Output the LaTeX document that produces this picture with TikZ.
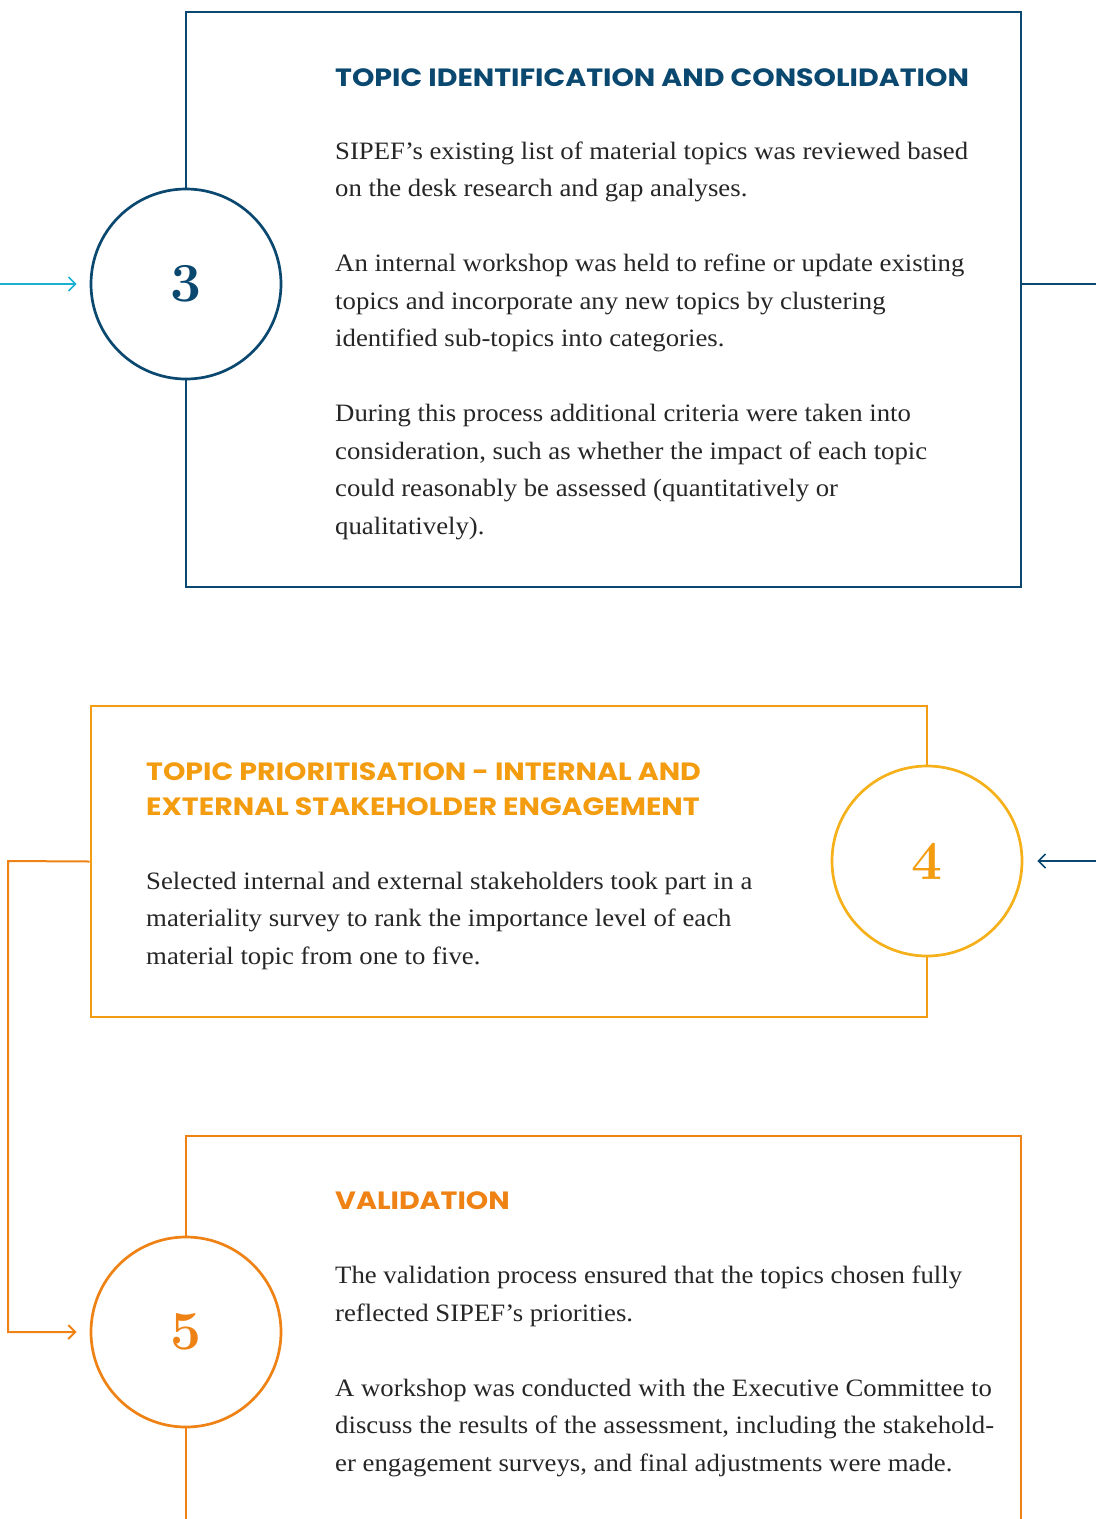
\documentclass[tikz,border=0pt]{standalone}
\usepackage{fontspec}
\setmainfont{Liberation Serif}[FakeStretch=1.07]
\newfontfamily\headfont{Poppins}[FakeStretch=1.14]
\newfontfamily\numfont{Latin Modern Roman}
\usetikzlibrary{arrows.meta}
\definecolor{navy}{HTML}{0B4870}
\definecolor{skyline}{HTML}{1BAFD1}
\definecolor{amber}{HTML}{F39C0F}
\definecolor{gold}{HTML}{F5B01A}
\definecolor{tangerine}{HTML}{EE8214}
\definecolor{ink}{HTML}{262626}
\tikzset{
  stagebox/.style={draw, line width=2.8pt, inner sep=0pt},
  stagering/.style={circle, draw, fill=white, line width=2.7pt, minimum size=190pt, inner sep=0pt,
    font=\numfont\bfseries\fontsize{55}{55}\selectfont},
  % multi-line nodes: base = baseline of the last line
  headtext/.style={anchor=base west, inner sep=0pt, align=left, font=\headfont\bfseries\fontsize{25}{35}\selectfont},
  bodytext/.style={anchor=base west, inner sep=0pt, align=left, text=ink, font=\fontsize{25}{37.5}\selectfont},
  flow/.style={line width=1.6pt, -{Straight Barb[length=7pt,width=14pt]}}
}
\begin{document}
\begin{tikzpicture}[x=1pt, y=-1pt]
  \clip (0,0) rectangle (1096,1519);

  % stage 3
  \node[stagebox, draw=navy, minimum width=835pt, minimum height=575pt] (box3) at (603.5,299.5) {};
  \node[stagering, draw=navy, text=navy] (c3) at (186,284) {3};
  \node[headtext, text=navy] (head3) at (335,86) {TOPIC IDENTIFICATION AND CONSOLIDATION};
  \node[bodytext] (body3) at (335,534) {SIPEF’s existing list of material topics was reviewed based\\
    on the desk research and gap analyses.\\[37.5pt]
    An internal workshop was held to refine or update existing\\
    topics and incorporate any new topics by clustering\\
    identified sub-topics into categories.\\[37.5pt]
    During this process additional criteria were taken into\\
    consideration, such as whether the impact of each topic\\
    could reasonably be assessed (quantitatively or\\
    qualitatively).};

  % stage 4
  \node[stagebox, draw=amber, minimum width=836pt, minimum height=311pt] (box4) at (509,861.5) {};
  \node[stagering, draw=gold, text=amber] (c4) at (927,861) {4};
  \node[headtext, text=amber] (head4) at (146,815) {TOPIC PRIORITISATION - INTERNAL AND\\
    EXTERNAL STAKEHOLDER ENGAGEMENT};
  \node[bodytext] (body4) at (146,964) {Selected internal and external stakeholders took part in a\\
    materiality survey to rank the importance level of each\\
    material topic from one to five.};

  % stage 5
  \node[stagebox, draw=tangerine, minimum width=835pt, minimum height=564pt] (box5) at (603.5,1418) {};
  \node[stagering, draw=tangerine, text=tangerine] (c5) at (186,1332) {5};
  \node[headtext, text=tangerine] (head5) at (335,1209) {VALIDATION};
  \node[bodytext] (body5) at (335,1471) {The validation process ensured that the topics chosen fully\\
    reflected SIPEF’s priorities.\\[37.5pt]
    A workshop was conducted with the Executive Committee to\\
    discuss the results of the assessment, including the stakehold-\\
    er engagement surveys, and final adjustments were made.};

  % connectors
  \coordinate (entry3) at (0,284);
  \coordinate (exit3) at (1096,284);
  \coordinate (entry4) at (1096,861);
  \coordinate (bend45) at (8,861);
  \draw[flow, skyline, shorten >=13pt] (entry3) -- (c3.west);
  \draw[navy, line width=2.2pt] (c3 -| box3.east) -- (exit3);
  \draw[flow, navy, shorten >=14pt] (entry4) -- (c4.east);
  \draw[flow, tangerine, line width=2pt, shorten >=13pt] (box4.west) -- (bend45) |- (c5.west);
\end{tikzpicture}
\end{document}
